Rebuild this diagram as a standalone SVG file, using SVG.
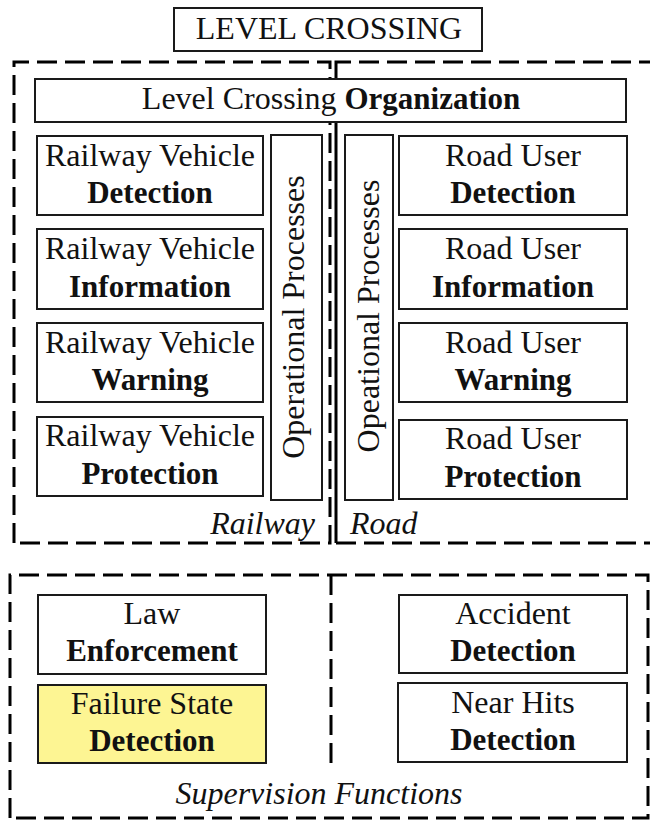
<svg xmlns="http://www.w3.org/2000/svg" width="650" height="821" viewBox="0 0 650 821">
  <style>
    .box { fill: #ffffff; stroke: #1a1a1a; stroke-width: 2; }
    .hl { fill: #fdf593; }
    .region { fill: none; stroke: #000000; stroke-width: 3; stroke-dasharray: 20 8; }
    .t { font-size: 32px; fill: #111111; text-anchor: middle; }
    .b { font-weight: bold; font-size: 31px; }
    .it { font-style: italic; }
  </style>

  <g font-family="Liberation Serif, Times New Roman, Times, Tinos, Noto Serif, DejaVu Serif, FreeSerif, serif">
  <!-- dashed grouping regions -->
  <g id="regions">
    <path class="region" d="M14,543 V62 H330 V543 Z"/>
    <path class="region" d="M336,543 V62 H652 M336,543 H652 M336,62 V543"/>
    <path class="region" d="M10,818 V575 H648 V818 H10"/>
    <path class="region" d="M331,575 V763"/>
    <text class="t it" x="315" y="534" style="text-anchor:end">Railway</text>
    <text class="t it" x="350" y="534" style="text-anchor:start">Road</text>
    <text class="t it" x="319" y="804">Supervision Functions</text>
  </g>

  <g id="connectors"></g>

  <g id="level-crossing">
    <rect class="box" x="174" y="8" width="308" height="43"/>
    <text class="t" x="329" y="39">LEVEL CROSSING</text>
  </g>

  <g id="organization">
    <rect class="box" x="35" y="79" width="591" height="43"/>
    <text class="t" x="331" y="109">Level Crossing <tspan class="b">Organization</tspan></text>
  </g>

  <!-- railway side -->
  <g id="rv-detection">
    <rect class="box" x="37" y="136" width="226" height="79"/>
    <text class="t" x="150" y="166">Railway Vehicle</text>
    <text class="t b" x="150" y="203">Detection</text>
  </g>
  <g id="rv-information">
    <rect class="box" x="37" y="229" width="226" height="80"/>
    <text class="t" x="150" y="259">Railway Vehicle</text>
    <text class="t b" x="150" y="297">Information</text>
  </g>
  <g id="rv-warning">
    <rect class="box" x="37" y="323" width="226" height="79"/>
    <text class="t" x="150" y="353">Railway Vehicle</text>
    <text class="t b" x="150" y="390">Warning</text>
  </g>
  <g id="rv-protection">
    <rect class="box" x="37" y="417" width="226" height="79"/>
    <text class="t" x="150" y="446">Railway Vehicle</text>
    <text class="t b" x="150" y="484">Protection</text>
  </g>
  <g id="rail-operational">
    <rect class="box" x="271" y="135" width="51" height="365"/>
    <text class="t" transform="translate(304,317) rotate(-90)">Operational Processes</text>
  </g>

  <!-- road side -->
  <g id="road-operational">
    <rect class="box" x="345" y="135" width="48" height="365"/>
    <text class="t" transform="translate(379,316) rotate(-90)">Opeational Processes</text>
  </g>
  <g id="ru-detection">
    <rect class="box" x="399" y="136" width="228" height="79"/>
    <text class="t" x="513" y="166">Road User</text>
    <text class="t b" x="513" y="203">Detection</text>
  </g>
  <g id="ru-information">
    <rect class="box" x="399" y="229" width="228" height="80"/>
    <text class="t" x="513" y="259">Road User</text>
    <text class="t b" x="513" y="297">Information</text>
  </g>
  <g id="ru-warning">
    <rect class="box" x="399" y="323" width="228" height="79"/>
    <text class="t" x="513" y="353">Road User</text>
    <text class="t b" x="513" y="390">Warning</text>
  </g>
  <g id="ru-protection">
    <rect class="box" x="399" y="420" width="228" height="79"/>
    <text class="t" x="513" y="449">Road User</text>
    <text class="t b" x="513" y="487">Protection</text>
  </g>

  <!-- supervision functions -->
  <g id="law-enforcement">
    <rect class="box" x="38" y="595" width="228" height="79"/>
    <text class="t" x="152" y="624">Law</text>
    <text class="t b" x="152" y="661">Enforcement</text>
  </g>
  <g id="failure-state">
    <rect class="box hl" x="38" y="685" width="228" height="78"/>
    <text class="t" x="152" y="714">Failure State</text>
    <text class="t b" x="152" y="751">Detection</text>
  </g>
  <g id="accident-detection">
    <rect class="box" x="399" y="595" width="228" height="78"/>
    <text class="t" x="513" y="624">Accident</text>
    <text class="t b" x="513" y="661">Detection</text>
  </g>
  <g id="near-hits">
    <rect class="box" x="398" y="683" width="229" height="79"/>
    <text class="t" x="513" y="713">Near Hits</text>
    <text class="t b" x="513" y="750">Detection</text>
  </g>
  </g>
</svg>
